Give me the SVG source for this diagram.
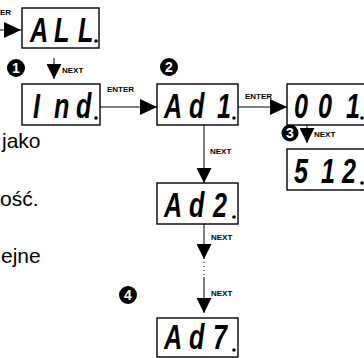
<svg xmlns="http://www.w3.org/2000/svg" width="364" height="358" viewBox="0 0 364 358">
<style>
.box{fill:#fff;stroke:#000;stroke-width:1.4}
.seg{font-family:"Liberation Sans",Arial,sans-serif;font-weight:bold;font-style:italic;font-size:36px;fill:#000}
.dot{fill:#000}
.lbl{font-family:"Liberation Sans",Arial,sans-serif;font-weight:bold;font-size:8px;fill:#000}
.body{font-family:"Liberation Sans",Arial,sans-serif;font-size:21px;fill:#000}
.num{fill:#000}
.numt{font-family:"Liberation Sans",Arial,sans-serif;font-weight:bold;font-size:14px;fill:#fff;text-anchor:middle}
.ln{stroke:#000;stroke-width:1;fill:none}
.dash{stroke:#000;stroke-width:1;stroke-dasharray:1 3;fill:none}
</style>
<defs>
<marker id="ah" markerUnits="userSpaceOnUse" markerWidth="17" markerHeight="16" refX="17" refY="8" orient="auto">
<path d="M0,0 L17,8 L0,16 z" fill="#000"/>
</marker>
<marker id="ahs" markerUnits="userSpaceOnUse" markerWidth="15" markerHeight="15" refX="15" refY="7.5" orient="auto">
<path d="M0,0 L15,7.5 L0,15 z" fill="#000"/>
</marker>
</defs>

<g id="text-left">
<text class="body" x="2" y="148">jako</text>
<text class="body" x="0" y="206">ość.</text>
<text class="body" x="1" y="263">ejne</text>
</g>

<g id="connectors">
<line class="ln" x1="0" y1="30" x2="21" y2="30" marker-end="url(#ah)"/>
<text class="lbl" x="0" y="15">ER</text>
<line class="ln" x1="54" y1="58" x2="54" y2="79" marker-end="url(#ahs)"/>
<text class="lbl" x="62" y="73">NEXT</text>
<line class="ln" x1="100" y1="107" x2="157" y2="107" marker-end="url(#ah)"/>
<text class="lbl" x="107" y="92">ENTER</text>
<line class="ln" x1="238" y1="107" x2="287" y2="107" marker-end="url(#ah)"/>
<text class="lbl" x="245" y="99">ENTER</text>
<line class="ln" x1="204" y1="125" x2="204" y2="183" marker-end="url(#ahs)"/>
<text class="lbl" x="210" y="154">NEXT</text>
<line class="ln" x1="307" y1="123" x2="307" y2="143" marker-end="url(#ahs)"/>
<text class="lbl" x="314" y="137">NEXT</text>
<line class="ln" x1="204" y1="224" x2="204" y2="259" marker-end="url(#ahs)"/>
<text class="lbl" x="211" y="240">NEXT</text>
<line class="dash" x1="204" y1="262" x2="204" y2="276"/>
<line class="ln" x1="204" y1="277" x2="204" y2="313" marker-end="url(#ahs)"/>
<text class="lbl" x="211" y="296">NEXT</text>
</g>

<g id="badge-1"><circle class="num" cx="16" cy="68" r="9"/><text class="numt" x="16" y="73">1</text></g>
<g id="badge-2"><circle class="num" cx="169" cy="67" r="9"/><text class="numt" x="169" y="72">2</text></g>
<g id="badge-3"><circle class="num" cx="290" cy="133" r="8.5"/><text class="numt" x="290" y="138">3</text></g>
<g id="badge-4"><circle class="num" cx="128" cy="295" r="9"/><text class="numt" x="128" y="300">4</text></g>

<g id="disp-ALL">
<rect class="box" x="22" y="8" width="77" height="40"/>
<text class="seg" transform="translate(30 42) scale(0.7 1)">A</text>
<text class="seg" transform="translate(54 42) scale(0.7 1)">L</text>
<text class="seg" transform="translate(78 42) scale(0.7 1)">L</text>
<circle class="dot" cx="96" cy="41" r="1.8"/>
</g>
<g id="disp-Ind">
<rect class="box" x="22" y="84" width="78" height="41"/>
<text class="seg" transform="translate(33 118) scale(0.7 1)">I</text>
<text class="seg" transform="translate(54 118) scale(0.7 1)">n</text>
<text class="seg" transform="translate(76 118) scale(0.7 1)">d</text>
<circle class="dot" cx="96" cy="118" r="1.8"/>
</g>
<g id="disp-Ad1">
<rect class="box" x="157" y="84" width="81" height="41"/>
<text class="seg" transform="translate(164 118) scale(0.7 1)">A</text>
<text class="seg" transform="translate(189 118) scale(0.7 1)">d</text>
<text class="seg" transform="translate(217 118) scale(0.7 1)">1</text>
<circle class="dot" cx="234" cy="118" r="1.8"/>
</g>
<g id="disp-001">
<rect class="box" x="287" y="84" width="80" height="41"/>
<text class="seg" transform="translate(294 118) scale(0.7 1)">0</text>
<text class="seg" transform="translate(318 118) scale(0.7 1)">0</text>
<text class="seg" transform="translate(346 118) scale(0.7 1)">1</text>
<circle class="dot" cx="362" cy="118" r="1.8"/>
</g>
<g id="disp-512">
<rect class="box" x="287" y="149" width="80" height="41"/>
<text class="seg" transform="translate(294 183) scale(0.7 1)">5</text>
<text class="seg" transform="translate(321 183) scale(0.7 1)">1</text>
<text class="seg" transform="translate(342 183) scale(0.7 1)">2</text>
<circle class="dot" cx="362" cy="183" r="1.8"/>
</g>
<g id="disp-Ad2">
<rect class="box" x="157" y="183" width="81" height="41"/>
<text class="seg" transform="translate(164 217) scale(0.7 1)">A</text>
<text class="seg" transform="translate(189 217) scale(0.7 1)">d</text>
<text class="seg" transform="translate(213 217) scale(0.7 1)">2</text>
<circle class="dot" cx="234" cy="217" r="1.8"/>
</g>
<g id="disp-Ad7">
<rect class="box" x="157" y="318" width="81" height="39"/>
<text class="seg" transform="translate(164 349) scale(0.7 1)">A</text>
<text class="seg" transform="translate(189 349) scale(0.7 1)">d</text>
<text class="seg" transform="translate(213 349) scale(0.7 1)">7</text>
<circle class="dot" cx="234" cy="350" r="1.8"/>
</g>
</svg>
